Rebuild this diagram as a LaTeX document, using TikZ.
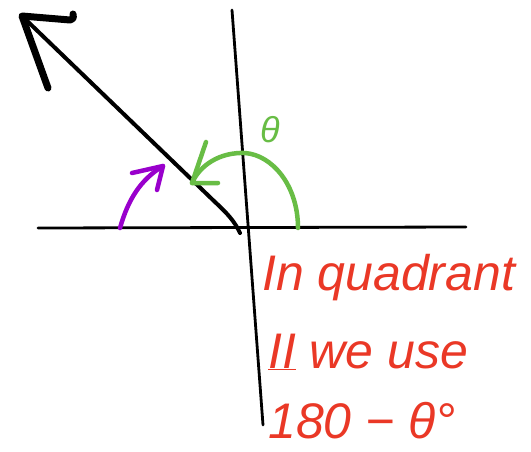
\documentclass[tikz,border=0pt]{standalone}
\usepackage{fontspec}
\setmainfont{Liberation Sans}
\definecolor{penred}{RGB}{234,56,38}
\definecolor{pengreen}{RGB}{104,189,69}
\definecolor{penpurple}{RGB}{153,0,204}
\begin{document}
\begin{tikzpicture}[x=1pt,y=-1pt,
  axis/.style={line width=2.8pt,line cap=round,black},
  stroke/.style={line cap=round,line join=round},
  hand/.style={text=penred,inner sep=0pt,anchor=base west,font=\fontsize{50}{56}\selectfont\itshape}]
\useasboundingbox[fill=white] (0,0) rectangle (531,451);
% axes
\coordinate (xl) at (38,228);
\coordinate (xr) at (466,227);
\coordinate (yt) at (232,10);
\coordinate (yb) at (263,425);
\draw[axis] (xl) -- (xr);
\draw[axis] (yt) -- (yb);
% vector
\coordinate (vs) at (240,233);
\coordinate (vt) at (22,16);
\draw[stroke,line width=4pt] (vs) .. controls (235,222) and (228,214) .. (215,202) -- (vt);
\draw[stroke,line width=7pt] (48,88) -- (vt) -- (70,20) .. controls (74,19) and (74,16) .. (73,14);
% green arc theta
\coordinate (gs) at (298,228);
\coordinate (ge) at (192,183);
\draw[stroke,pengreen,line width=4.5pt] (gs) .. controls (298,185) and (272,155) .. (245,153) .. controls (220,152) and (200,165) .. (ge);
\draw[stroke,pengreen,line width=4.5pt] (206,142) -- (ge) -- (218,183);
\node[text=pengreen,font=\fontsize{36}{40}\selectfont\itshape,inner sep=0pt] (th) at (270,130) {θ};
% purple arc
\coordinate (ps) at (120,228);
\coordinate (pe) at (163,166);
\draw[stroke,penpurple,line width=4.5pt] (ps) .. controls (128,200) and (140,180) .. (pe);
\draw[stroke,penpurple,line width=4.5pt] (132,173) -- (pe) -- (157,190);
% text
\node[hand] (l1) at (262,290) {In quadrant};
\node[hand] (l2) at (268,368) {\underline{II} we use};
\node[hand] (l3) at (268,438) {180 − θ°};
\end{tikzpicture}
\end{document}
